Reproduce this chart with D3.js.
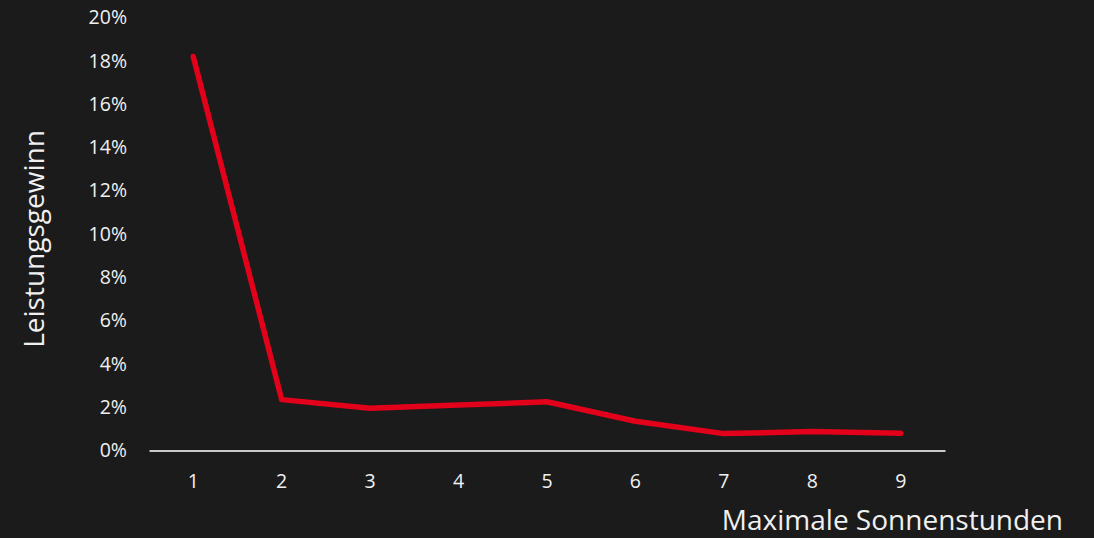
<!DOCTYPE html>
<html>
<head>
<meta charset="utf-8">
<script src="https://cdn.jsdelivr.net/npm/d3@7"></script>
<style>
  html, body { margin: 0; padding: 0; background: #1b1b1b; }
  svg { display: block; font-family: "Open Sans", "Noto Sans", sans-serif; }
</style>
</head>
<body>
<svg id="chart" width="1094" height="538"></svg>
<script>
// Sonnenstunden-Kategorien und Leistungsgewinn (in %)
const hours = [1, 2, 3, 4, 5, 6, 7, 8, 9];
const gain = [18.2, 2.35, 1.95, 2.1, 2.25, 1.35, 0.78, 0.88, 0.8];
const yTicks = [0, 2, 4, 6, 8, 10, 12, 14, 16, 18, 20];
const xTitle = "Maximale Sonnenstunden";
const yTitle = "Leistungsgewinn";

const svg = d3.select("#chart");
const W = 1094, H = 538;
svg.append("rect").attr("width", W).attr("height", H).attr("fill", "#1b1b1b");

const x = d3.scaleBand().domain(hours).range([149, 945]);
const y = d3.scaleLinear().domain([0, 20]).range([450.5, 17.5]);
const font = "\"Open Sans\", \"Noto Sans\", sans-serif";

// y-Achse: nur Beschriftungen
const yAxis = svg.append("g")
  .attr("transform", "translate(127,0)")
  .call(d3.axisLeft(y).tickValues(yTicks).tickSize(0).tickPadding(0).tickFormat(d => d + "%"));
yAxis.select(".domain").remove();
yAxis.selectAll("text")
  .attr("fill", "#f0f0f0")
  .attr("font-size", 19.5)
  .attr("font-family", font);

// x-Achse mit Grundlinie
const xAxis = svg.append("g")
  .attr("transform", `translate(0,${y(0)})`)
  .call(d3.axisBottom(x).tickSize(0).tickPadding(24));
xAxis.select(".domain").attr("stroke", "#c8c8c8").attr("stroke-width", 2);
xAxis.selectAll("text")
  .attr("fill", "#f0f0f0")
  .attr("font-size", 19.5)
  .attr("font-family", font);

// Datenlinie
const line = d3.line()
  .x((d, i) => x(hours[i]) + x.bandwidth() / 2)
  .y(d => y(d));
svg.append("path")
  .datum(gain)
  .attr("d", line)
  .attr("fill", "none")
  .attr("stroke", "#e3001b")
  .attr("stroke-width", 5.5)
  .attr("stroke-linecap", "round")
  .attr("stroke-linejoin", "round");

// Achsentitel
svg.append("text")
  .attr("transform", "translate(44,239) rotate(-90)")
  .attr("text-anchor", "middle")
  .attr("fill", "#f0f0f0")
  .attr("font-size", 28)
  .attr("font-family", font)
  .text(yTitle);

svg.append("text")
  .attr("x", 1063)
  .attr("y", 530)
  .attr("text-anchor", "end")
  .attr("fill", "#f0f0f0")
  .attr("font-size", 28)
  .attr("font-family", font)
  .text(xTitle);
</script>
</body>
</html>
